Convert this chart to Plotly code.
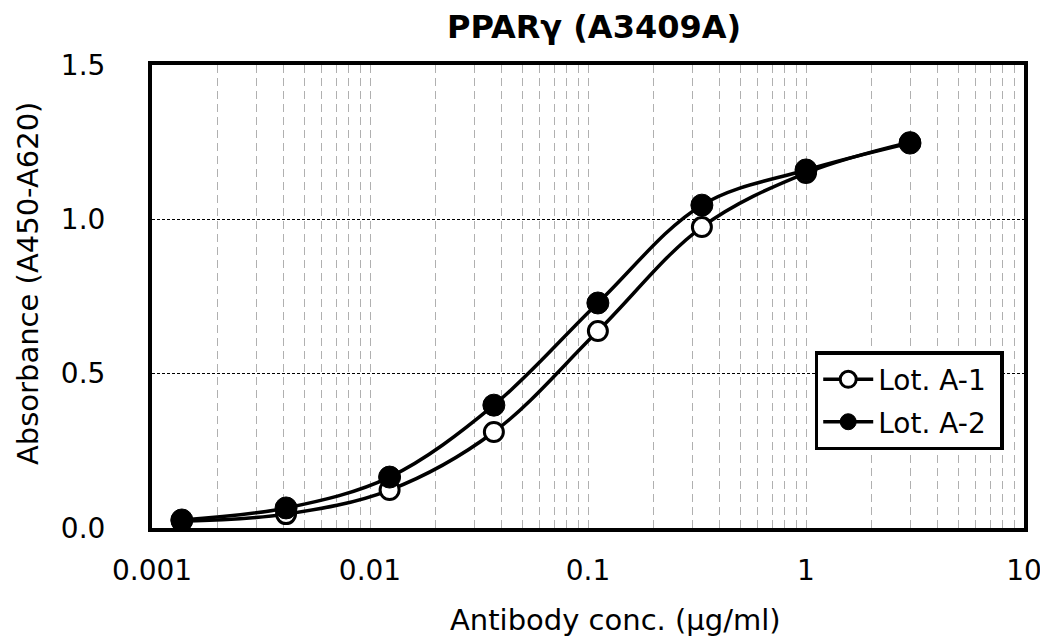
import plotly.graph_objects as go

conc = [3.0, 1.0, 0.333, 0.111, 0.037, 0.0123, 0.00412, 0.00137]
lot_a1 = [1.25, 1.15, 0.975, 0.638, 0.311, 0.123, 0.045, 0.022]
lot_a2 = [1.247, 1.16, 1.046, 0.729, 0.398, 0.165, 0.065, 0.026]
x_ticks = [0.001, 0.01, 0.1, 1, 10]
x_tick_text = ["0.001", "0.01", "0.1", "1", "10"]
y_ticks = [0.0, 0.5, 1.0, 1.5]
y_tick_text = ["0.0", "0.5", "1.0", "1.5"]

FONT = "DejaVu Sans"

fig = go.Figure()
fig.add_trace(go.Scatter(
    x=conc, y=lot_a1, name="Lot. A-1\u00a0", mode="lines+markers", legendgroup="a1",
    line=dict(color="black", width=3.5, shape="spline", smoothing=1.0),
    marker=dict(symbol="circle", size=19, color="white",
                line=dict(color="black", width=3)),
))
fig.add_trace(go.Scatter(
    x=conc, y=lot_a2, name="Lot. A-2\u00a0", mode="lines+markers", legendgroup="a2",
    line=dict(color="black", width=3.5, shape="spline", smoothing=1.0),
    marker=dict(symbol="circle", size=22, color="black",
                line=dict(color="black", width=1)),
))

# page has an 8px body margin, so the figure is drawn 8px smaller
fig.update_layout(
    width=1040, height=632,
    paper_bgcolor="white", plot_bgcolor="white",
    margin=dict(l=144, r=24, t=57, b=112, autoexpand=False),
    font=dict(family=FONT, size=28, color="black"),
    title=dict(text="<b>PPARγ (A3409A)</b>", x=586 / 1040, xanchor="center",
               y=1 - 19 / 632, yanchor="middle", font=dict(size=32, family=FONT)),
    showlegend=True,
    legend=dict(x=0.760, y=0.382, xanchor="left", yanchor="top",
                bgcolor="white", bordercolor="black", borderwidth=3.5,
                font=dict(size=28, family=FONT), itemwidth=50,
                tracegroupgap=3),
    annotations=[
        dict(text="Antibody conc. (μg/ml)", xref="paper", yref="paper",
             x=0.531, y=-0.1987, xanchor="center", yanchor="middle",
             showarrow=False, font=dict(size=29, family=FONT)),
        dict(text="Absorbance (A450-A620)", xref="paper", yref="paper",
             x=-0.1422, y=0.527, xanchor="center", yanchor="middle",
             textangle=-90, showarrow=False, font=dict(size=29, family=FONT)),
    ],
)
fig.update_xaxes(
    type="log", range=[-3, 1], automargin=False,
    tickvals=x_ticks, ticktext=x_tick_text,
    showgrid=True, gridcolor="#b0b0b0", griddash="8px,5px", gridwidth=1,
    minor=dict(dtick="D1", showgrid=True, gridcolor="#b0b0b0",
               griddash="8px,5px", gridwidth=1),
    showline=True, linecolor="black", linewidth=4, mirror=True,
    ticks="", ticklabelstandoff=14,
    zeroline=False,
)
fig.update_yaxes(
    range=[0, 1.5], automargin=False,
    tickvals=y_ticks, ticktext=y_tick_text,
    showgrid=True, gridcolor="black", griddash="3px,2px", gridwidth=1,
    showline=True, linecolor="black", linewidth=4, mirror=True,
    ticks="", ticklabelstandoff=37,
    zeroline=False,
)

fig.write_html("out.html")
